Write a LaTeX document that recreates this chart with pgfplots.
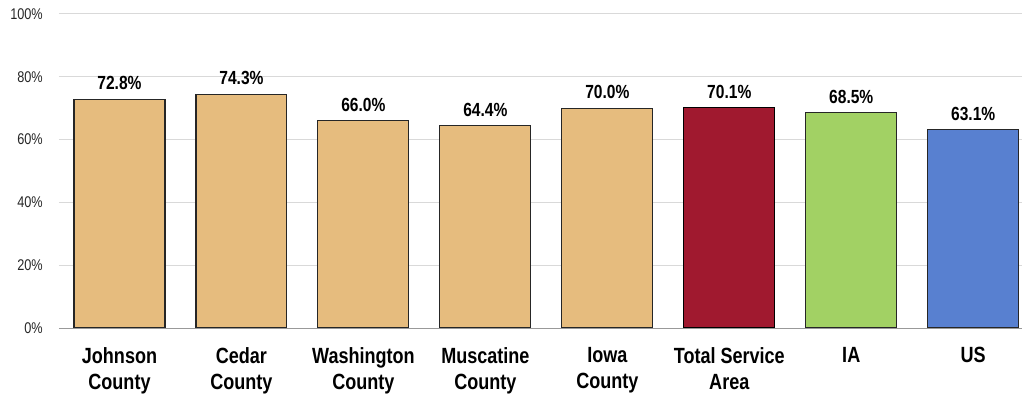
\documentclass[border=0pt]{standalone}
\usepackage{pgfplots}
\pgfplotsset{compat=1.18}
\usepackage{fontspec}
\setmainfont{Liberation Sans}
\newfontfamily\narrow{Liberation Sans}[FakeStretch=0.82]
\definecolor{tan}{HTML}{E6BC7E}
\definecolor{crim}{HTML}{A0192F}
\definecolor{grn}{HTML}{A2D164}
\definecolor{blu}{HTML}{5880D0}
\definecolor{grid}{HTML}{D9D9D9}
\begin{document}
\begin{tikzpicture}
\begin{axis}[
  scale only axis,
  width=963pt, height=314pt,
  ymin=0, ymax=100,
  xmin=-0.496, xmax=7.4,
  ybar, bar width=0.746, bar shift=0pt,
  axis line style={draw=none},
  tick style={draw=none},
  ytick={0,20,40,60,80,100},
  yticklabel={\pgfmathprintnumber{\tick}\%},
  /pgf/number format/assume math mode=true,
  yticklabel style={font=\narrow\fontsize{15.5}{16}\selectfont, inner sep=0pt, xshift=-16pt, text=black!85},
  xmajorgrids=false, ymajorgrids=true,
  y grid style={grid, line width=1pt},
  xtick={0,1,2,3,4,5,6,7},
  xticklabels={{Johnson\\County},{Cedar\\County},{Washington\\County},{Muscatine\\County},{Iowa\\County},{Total Service\\Area},{IA},{US}},
  xticklabel style={align=center, font=\narrow\bfseries\fontsize{22}{26}\selectfont, inner sep=0pt, yshift=-19pt},
  major tick length=0pt,
  nodes near coords={\pgfmathprintnumber[fixed,fixed zerofill,precision=1]{\pgfplotspointmeta}\%},
  every node near coord/.style={font=\narrow\bfseries\fontsize{19}{20}\selectfont, anchor=south, inner sep=0pt, yshift=9pt},
  clip=false,
]
\addplot[fill=tan, draw=black!85, line width=1.1pt] coordinates {(0,72.8) (1,74.3) (2,66.0) (3,64.4) (4,70.0)};
\addplot[fill=crim, draw=black, line width=1.1pt] coordinates {(5,70.1)};
\addplot[fill=grn, draw=black!85, line width=1.1pt] coordinates {(6,68.5)};
\addplot[fill=blu, draw=black!85, line width=1.1pt] coordinates {(7,63.1)};
\draw[black!40, line width=1pt] (axis cs:-0.496,0) -- (axis cs:7.4,0);
\end{axis}
\path (current axis.south west) ++(-59pt,-68pt) coordinate (a);
\path (current axis.north east) ++(2pt,14pt) coordinate (b);
\path (a) rectangle (b);
\end{tikzpicture}
\end{document}
